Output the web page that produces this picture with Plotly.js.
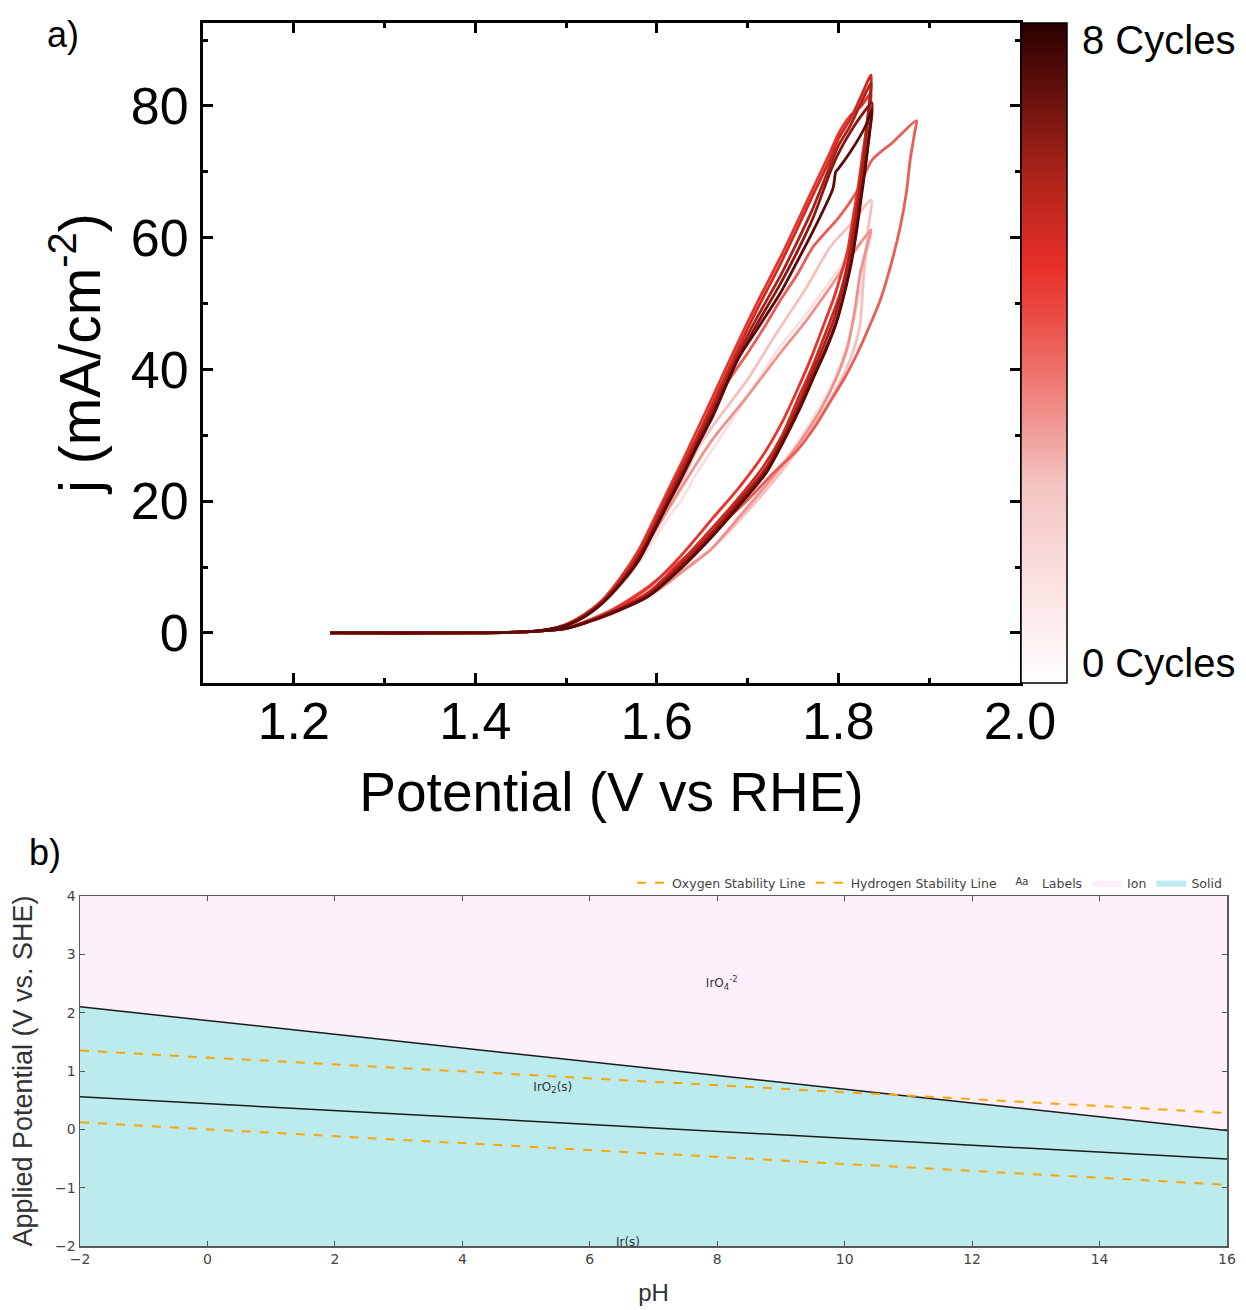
<!DOCTYPE html>
<html>
<head>
<meta charset="utf-8">
<script src="https://cdn.plot.ly/plotly-3.0.1.min.js"></script>
<style>html,body{margin:0;padding:0;background:#fff}#chart{width:1246px;height:1310px}</style>
</head>
<body>
<div id="chart"></div>
<script>
// ---------- Panel a) data: cyclic voltammograms (potential V vs RHE, current density mA/cm^2)
// each loop: flat start -> lower-current branch up to vertex -> higher-current branch back to start
const baseStartV = [1.24, 1.40, 1.45, 1.48];
const baseStartJ = [0, 0.02, 0.15, 0.4];
const baseEndV = [1.48, 1.46, 1.40, 1.24];
const baseEndJ = [0.5, 0.2, 0.02, 0];

const cycle0UpV = [1.50,1.52,1.55,1.60,1.63,1.662,1.69,1.725,1.755,1.78,1.797,1.81,1.824,1.83,1.836];
const cycle0UpJ = [0.7,1.5,2.8,6.3,9.6,13,17.6,23.5,29,34.5,39,44,52,57,61];
const cycle0DnV = [1.836,1.813,1.791,1.765,1.736,1.70,1.662,1.645,1.626,1.61,1.596,1.58,1.56,1.54,1.52,1.50];
const cycle0DnJ = [61,57.5,53.5,48.5,43.5,36,28,24.5,20,17,14,10.6,7.2,4.4,2.4,1.2];

const cycle1UpV = [1.50,1.52,1.55,1.60,1.63,1.662,1.70,1.736,1.765,1.791,1.81,1.82,1.824,1.828,1.833,1.836];
const cycle1UpJ = [0.7,1.5,2.9,6.5,9.7,13,18.5,24.3,29.8,35.4,40.5,44.5,47,54.6,61.6,65.7];
const cycle1DnV = [1.836,1.813,1.791,1.765,1.736,1.725,1.70,1.662,1.645,1.626,1.61,1.596,1.58,1.56,1.54,1.52,1.50];
const cycle1DnJ = [65.7,62,58.6,52.5,46.4,44,38.5,31.5,28,22.5,18.8,15.5,11.5,7.8,4.7,2.5,1.2];

const cycle2UpV = [1.50,1.52,1.55,1.60,1.63,1.659,1.69,1.725,1.755,1.78,1.797,1.81,1.818,1.824,1.83,1.836];
const cycle2UpJ = [0.7,1.5,2.9,6.4,9.5,12.6,17.5,23.2,28.5,33.8,38.5,43.4,49,54.6,58,61.2];
const cycle2DnV = [1.836,1.813,1.791,1.765,1.736,1.70,1.662,1.645,1.626,1.61,1.596,1.58,1.56,1.54,1.52,1.50];
const cycle2DnJ = [61.2,57,52.5,47.5,42.5,36,29.5,26,21.8,18.2,15,11.2,7.6,4.6,2.5,1.2];

const cycle3UpV = [1.50,1.52,1.55,1.59,1.62,1.645,1.67,1.70,1.73,1.755,1.775,1.794,1.808,1.821,1.834,1.846,1.858,1.868,1.875,1.879,1.884,1.886];
const cycle3UpJ = [0.8,1.7,3.5,7,10.3,13,16.3,20.2,24.5,27.8,31.5,35.8,39,42.5,46.5,50.5,56,61.6,67,71.8,76,77.8];
const cycle3DnV = [1.886,1.86,1.837,1.821,1.80,1.772,1.755,1.736,1.72,1.70,1.68,1.662,1.645,1.626,1.61,1.596,1.58,1.56,1.54,1.52,1.50];
const cycle3DnJ = [77.8,74.5,71.8,67.2,63,58.6,54.5,50.5,46.8,42.5,38.5,34.2,29.5,24.6,20.2,16.5,12.3,8.2,4.9,2.7,1.2];

const cycle4UpV = [1.50,1.52,1.55,1.59,1.625,1.662,1.69,1.717,1.738,1.755,1.77,1.783,1.794,1.802,1.81,1.816,1.822,1.827,1.832,1.836];
const cycle4UpJ = [0.7,1.6,3.4,6.8,11.5,17.5,22,27,32,37,41.8,46.5,50.5,54,58,63,68,73,77.5,82];
const cycle4DnV = [1.836,1.825,1.813,1.80,1.791,1.772,1.755,1.736,1.71,1.689,1.662,1.645,1.626,1.61,1.596,1.58,1.56,1.54,1.52,1.50];
const cycle4DnJ = [82,80,78.5,75.8,73,67.5,62.5,57,50,44,36,31,25.5,21,17,12.6,8.4,5,2.8,1.3];

const cycle5UpV = [1.50,1.52,1.55,1.59,1.625,1.662,1.69,1.717,1.738,1.755,1.77,1.783,1.794,1.802,1.81,1.816,1.822,1.827,1.832,1.836];
const cycle5UpJ = [0.7,1.5,3.2,6.1,10.6,16.1,20.5,25.2,30,35.4,40,44.5,48.5,51.6,56,61.6,66.5,71.8,78,84.7];
const cycle5DnV = [1.836,1.825,1.813,1.80,1.791,1.772,1.755,1.736,1.71,1.689,1.662,1.645,1.626,1.61,1.596,1.58,1.56,1.54,1.52,1.50];
const cycle5DnJ = [84.7,81.5,78,75,72,66.5,61.5,56,49,43,35,30,24.8,20.3,16.3,12,8,4.8,2.7,1.2];

const cycle6UpV = [1.50,1.52,1.55,1.59,1.625,1.662,1.69,1.72,1.74,1.757,1.772,1.785,1.796,1.804,1.812,1.818,1.823,1.828,1.832,1.836];
const cycle6UpJ = [0.7,1.5,3.1,5.8,10.2,15.5,20,25,30,35,39.8,44,48,52,57,62,67,72,77.5,83.5];
const cycle6DnV = [1.836,1.825,1.813,1.80,1.791,1.772,1.755,1.736,1.71,1.689,1.662,1.645,1.626,1.61,1.596,1.58,1.56,1.54,1.52,1.50];
const cycle6DnJ = [83.5,80.5,77,74,71,64.5,59.5,54.2,47.8,42.2,34.2,29.4,24.2,19.8,15.8,11.6,7.8,4.7,2.6,1.2];

const cycle7UpV = [1.50,1.52,1.55,1.59,1.625,1.662,1.69,1.72,1.74,1.758,1.774,1.787,1.798,1.806,1.814,1.82,1.825,1.83,1.834,1.837];
const cycle7UpJ = [0.7,1.5,3.0,5.6,9.8,15,19.5,24.5,29.5,34.5,39.5,43.5,47.5,51.5,56.5,61.5,66.5,71.5,76,80.5];
const cycle7DnV = [1.837,1.825,1.813,1.80,1.791,1.772,1.755,1.736,1.71,1.689,1.662,1.645,1.626,1.61,1.596,1.58,1.56,1.54,1.52,1.50];
const cycle7DnJ = [80.5,78.5,76,72.8,70,63,58,53,46.8,41.5,33.5,28.8,23.5,19.3,15.5,11.3,7.6,4.6,2.5,1.2];

const cycle8UpV = [1.50,1.52,1.55,1.59,1.625,1.662,1.69,1.72,1.74,1.758,1.774,1.787,1.798,1.806,1.814,1.82,1.825,1.83,1.834,1.837];
const cycle8UpJ = [0.7,1.5,3.0,5.5,9.6,14.8,19.2,24.2,29.2,34.2,39.2,43.2,47.2,51.2,56,61,66,71,75.5,79.5];
const cycle8DnV = [1.837,1.83,1.813,1.80,1.797,1.794,1.772,1.755,1.736,1.71,1.689,1.662,1.645,1.626,1.61,1.596,1.58,1.56,1.54,1.52,1.50];
const cycle8DnJ = [79.5,77,73,70.5,70,67.5,61,56.5,51.6,46,41.5,33,28.5,23.2,19,15.2,11,7.4,4.5,2.4,1.1];

const cycleColors = ['#fbe0e0','#f5c0be','#ef928e','#ea5c55','#e8322b','#cf2a22','#ad2018','#8a1612','#5a0a08'];
const cycleRange = [0, 8];
const cycleLabels = ['0 Cycles', '8 Cycles'];

// ---------- Panel b) data: Pourbaix diagram of Ir
const pH = [-2, 16];
const floorPotential = [-2, -2];
const ceilingPotential = [4, 4];
const upperBoundary = [2.10, -0.02];   // IrO2(s) / IrO4^-2
const lowerBoundary = [0.56, -0.51];   // Ir(s) / IrO2(s)
const oxygenLine = [1.35, 0.28];
const hydrogenLine = [0.12, -0.95];
const labelText = ['IrO<sub>4</sub><sup>-2</sup>', 'IrO<sub>2</sub>(s)', 'Ir(s)'];
const labelPH = [8.07, 5.42, 6.6];
const labelPotential = [2.49, 0.71, -1.95];

// ---------- layout helpers
const W = 1246, H = 1310;
const px = v => v / W;
const py = v => 1 - v / H;
const AFONT = 'Liberation Sans, Arial, sans-serif';
const VFONT = 'DejaVu Sans, Verdana, sans-serif';

const traces = [];
const cv = [
  [cycle0UpV, cycle0UpJ, cycle0DnV, cycle0DnJ],
  [cycle1UpV, cycle1UpJ, cycle1DnV, cycle1DnJ],
  [cycle2UpV, cycle2UpJ, cycle2DnV, cycle2DnJ],
  [cycle3UpV, cycle3UpJ, cycle3DnV, cycle3DnJ],
  [cycle4UpV, cycle4UpJ, cycle4DnV, cycle4DnJ],
  [cycle5UpV, cycle5UpJ, cycle5DnV, cycle5DnJ],
  [cycle6UpV, cycle6UpJ, cycle6DnV, cycle6DnJ],
  [cycle7UpV, cycle7UpJ, cycle7DnV, cycle7DnJ],
  [cycle8UpV, cycle8UpJ, cycle8DnV, cycle8DnJ]
];
cv.forEach((c, i) => {
  traces.push({
    x: [].concat(baseStartV, c[0], c[2].slice(1), baseEndV),
    y: [].concat(baseStartJ, c[1], c[3].slice(1), baseEndJ),
    type: 'scatter', mode: 'lines', xaxis: 'x', yaxis: 'y',
    line: {color: cycleColors[i], width: 2.8, shape: 'spline', smoothing: 0.7},
    showlegend: false, hoverinfo: 'skip'});
});
const cscale = [[0,'#ffffff'],[0.3,'#f4c4c2'],[0.45,'#ee7c76'],[0.56,'#e94a42'],[0.63,'#e8302a'],[0.76,'#b0241a'],[0.86,'#781610'],[1,'#2a0000']];
traces.push({x: [baseStartV[0], baseStartV[0]], y: [baseStartJ[0], baseStartJ[0]], type: 'scatter', mode: 'markers', xaxis: 'x', yaxis: 'y',
  marker: {color: cycleRange, cmin: cycleRange[0], cmax: cycleRange[1], colorscale: cscale, size: 1, opacity: 0, showscale: true,
    colorbar: {x: px(1021), xanchor: 'left', xref: 'paper', y: py(23), yanchor: 'top', yref: 'paper',
      thickness: 46, thicknessmode: 'pixels', len: 660, lenmode: 'pixels', xpad: 0, ypad: 0,
      outlinewidth: 1.5, outlinecolor: '#000', showticklabels: false, ticks: ''}},
  showlegend: false, hoverinfo: 'skip'});

// panel b traces
traces.push({x: pH, y: floorPotential, type: 'scatter', mode: 'lines', xaxis: 'x2', yaxis: 'y2', line: {width: 0}, showlegend: false, hoverinfo: 'skip'});
traces.push({x: pH, y: upperBoundary, type: 'scatter', mode: 'lines', xaxis: 'x2', yaxis: 'y2', fill: 'tonexty', fillcolor: '#bbebec', line: {width: 0}, name: 'Solid', legendrank: 5, hoverinfo: 'skip'});
traces.push({x: pH, y: ceilingPotential, type: 'scatter', mode: 'lines', xaxis: 'x2', yaxis: 'y2', fill: 'tonexty', fillcolor: '#fef0fb', line: {width: 0}, name: 'Ion', legendrank: 4, hoverinfo: 'skip'});
traces.push({x: pH, y: upperBoundary, type: 'scatter', mode: 'lines', xaxis: 'x2', yaxis: 'y2', line: {color: '#1a1a1a', width: 1.5}, showlegend: false, hoverinfo: 'skip'});
traces.push({x: pH, y: lowerBoundary, type: 'scatter', mode: 'lines', xaxis: 'x2', yaxis: 'y2', line: {color: '#1a1a1a', width: 1.5}, showlegend: false, hoverinfo: 'skip'});
traces.push({x: pH, y: oxygenLine, type: 'scatter', mode: 'lines', xaxis: 'x2', yaxis: 'y2', line: {color: '#ffa500', width: 2, dash: 'dash'}, name: 'Oxygen Stability Line', legendrank: 1, hoverinfo: 'skip'});
traces.push({x: pH, y: hydrogenLine, type: 'scatter', mode: 'lines', xaxis: 'x2', yaxis: 'y2', line: {color: '#ffa500', width: 2, dash: 'dash'}, name: 'Hydrogen Stability Line', legendrank: 2, hoverinfo: 'skip'});
traces.push({x: labelPH, y: labelPotential, text: labelText, type: 'scatter', mode: 'text', xaxis: 'x2', yaxis: 'y2', textfont: {family: VFONT, size: 12, color: '#333'}, name: 'Labels', legendrank: 3, hoverinfo: 'skip'});

const topTickFont = {family: AFONT, size: 52, color: '#000'};
const layout = {
  width: W, height: H, margin: {l: 0, r: 0, t: 0, b: 0},
  paper_bgcolor: '#fff', plot_bgcolor: 'rgba(0,0,0,0)',
  showlegend: true,
  xaxis: {domain: [px(203), px(1020)], anchor: 'y', range: [1.1, 2.0], dtick: 0.2, tick0: 0, tickformat: '.1f',
    ticks: 'inside', ticklen: 10, tickwidth: 3, tickcolor: '#000', showline: true, linewidth: 3, linecolor: '#000', mirror: 'allticks',
    minor: {dtick: 0.1, tick0: 0, ticks: 'inside', ticklen: 5, tickwidth: 3, tickcolor: '#000'},
    showgrid: false, zeroline: false, tickfont: topTickFont, ticklabelstandoff: -9,
    title: {text: 'Potential (V vs RHE)', font: {family: AFONT, size: 55, color: '#000'}, standoff: 24}},
  yaxis: {domain: [py(683), py(23)], anchor: 'x', range: [-7.6, 92.6], dtick: 20, tick0: 0,
    ticks: 'inside', ticklen: 10, tickwidth: 3, tickcolor: '#000', showline: true, linewidth: 3, linecolor: '#000', mirror: 'allticks',
    minor: {dtick: 10, tick0: 0, ticks: 'inside', ticklen: 5, tickwidth: 3, tickcolor: '#000'},
    showgrid: false, zeroline: false, tickfont: topTickFont, ticklabelstandoff: 1,
    title: {text: 'j (mA/cm<sup>-2</sup>)', font: {family: AFONT, size: 57, color: '#000'}, standoff: 12}},
  xaxis2: {domain: [px(80), px(1227)], anchor: 'y2', range: [-2, 16], dtick: 2, tick0: 0,
    ticks: 'inside', ticklen: 5, tickwidth: 1, tickcolor: '#555', showline: true, linewidth: 1.5, linecolor: '#5a5a5a', mirror: 'ticks',
    showgrid: false, zeroline: false, tickfont: {family: VFONT, size: 14, color: '#444'},
    title: {text: 'pH', font: {family: AFONT, size: 24, color: '#333'}, standoff: 18}},
  yaxis2: {domain: [py(1246), py(896)], anchor: 'x2', range: [-2, 4], dtick: 1, tick0: 0,
    ticks: 'inside', ticklen: 5, tickwidth: 1, tickcolor: '#555', showline: true, linewidth: 1.5, linecolor: '#5a5a5a', mirror: 'ticks',
    showgrid: false, zeroline: false, tickfont: {family: VFONT, size: 14, color: '#444'},
    title: {text: 'Applied Potential (V vs. SHE)', font: {family: AFONT, size: 27, color: '#333'}, standoff: 14}},
  legend: {orientation: 'h', x: px(1227), xanchor: 'right', y: py(868), yanchor: 'top', xref: 'paper', yref: 'paper',
    font: {family: VFONT, size: 12.5, color: '#444'}, bgcolor: 'rgba(0,0,0,0)', traceorder: 'normal', itemwidth: 30},
  annotations: [
    {text: 'a)', x: px(45), y: py(35), xref: 'paper', yref: 'paper', xanchor: 'left', yanchor: 'middle', showarrow: false, font: {family: AFONT, size: 36, color: '#000'}},
    {text: 'b)', x: px(27), y: py(852), xref: 'paper', yref: 'paper', xanchor: 'left', yanchor: 'middle', showarrow: false, font: {family: AFONT, size: 36, color: '#000'}},
    {text: cycleLabels[1], x: px(1080), y: py(40), xref: 'paper', yref: 'paper', xanchor: 'left', yanchor: 'middle', showarrow: false, font: {family: AFONT, size: 40, color: '#000'}},
    {text: cycleLabels[0], x: px(1080), y: py(663), xref: 'paper', yref: 'paper', xanchor: 'left', yanchor: 'middle', showarrow: false, font: {family: AFONT, size: 40, color: '#000'}}
  ]
};
Plotly.newPlot('chart', traces, layout, {staticPlot: true, displayModeBar: false});
</script>
</body>
</html>
